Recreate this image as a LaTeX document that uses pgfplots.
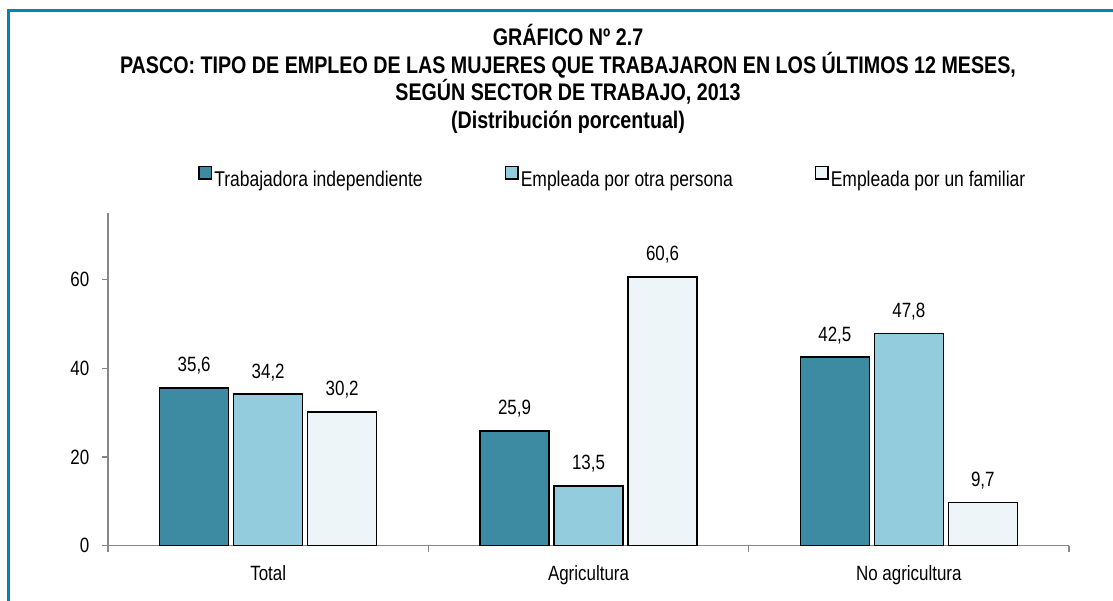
\documentclass[border=0pt]{standalone}
\usepackage{fontspec}
\setmainfont{Liberation Sans}[FakeStretch=0.82]
\usepackage{pgfplots}
\pgfplotsset{compat=1.18}
\definecolor{c1}{RGB}{60,139,163}
\definecolor{c2}{RGB}{147,205,221}
\definecolor{c3}{RGB}{237,245,248}
\definecolor{framec}{RGB}{0,133,186}
\definecolor{axgray}{RGB}{135,135,135}
\newcommand{\lab}{\fontsize{15.5}{18}\selectfont}
\newcommand{\leg}{\fontsize{16}{19}\selectfont}
\newcommand{\ttl}{\fontsize{18}{21}\selectfont}
\begin{document}
\begin{tikzpicture}
\useasboundingbox (0,0) rectangle (834.75pt,450pt);
\draw[framec, line width=2.25pt] (6pt,-5pt) -- (6pt,441.75pt) -- (840pt,441.75pt);
\node[anchor=base, font=\bfseries\ttl, inner sep=0pt] at (426pt,415.5pt) {GRÁFICO Nº 2.7};
\node[anchor=base, font=\bfseries\ttl, inner sep=0pt] at (426pt,394.5pt) {PASCO: TIPO DE EMPLEO DE LAS MUJERES QUE TRABAJARON EN LOS ÚLTIMOS 12 MESES,};
\node[anchor=base, font=\bfseries\ttl, inner sep=0pt] at (426pt,374.25pt) {SEGÚN SECTOR DE TRABAJO, 2013};
\node[anchor=base, font=\bfseries\ttl, inner sep=0pt] at (426pt,353.5pt) {(Distribución porcentual)};
\begin{axis}[
  at={(81pt,40.7pt)}, anchor=south west,
  width=720.75pt, height=249.5pt, scale only axis,
  xmin=-0.5, xmax=2.5, ymin=0, ymax=75,
  axis lines=left,
  axis line style={-, draw=axgray, line width=1.1pt},
  ytick={0,20,40,60},
  yticklabels={0,20,40,60},
  xtick={-0.5,0.5,1.5,2.5},
  xticklabels={Total,Agricultura,No agricultura},
  x tick label as interval,
  tick align=outside,
  major tick length=4.5pt,
  tick style={draw=axgray, line width=1.1pt},
  ticklabel style={font=\lab},
  yticklabel style={xshift=-6pt},
  xticklabel style={yshift=-7pt},
  /pgf/number format/assume math mode=true,
  /pgf/number format/.cd, use comma, fixed, fixed zerofill, precision=1, /pgfplots/.cd,
  ybar, bar width=51.75pt,
  nodes near coords,
  every node near coord/.append style={font=\lab, anchor=base, yshift=12pt, text=black},
  legend columns=3,
  legend cell align=left,
  legend style={draw=none, fill=none, at={(0.0937,1.105)}, anchor=west, font=\leg,
    inner sep=0pt, nodes={inner sep=1.5pt},
    /tikz/every even column/.append style={column sep=60pt}},
  legend image code/.code={\draw[#1, draw=black, line width=1pt] (0pt,0.5pt) rectangle (9.5pt,10pt);},
]
\addplot[fill=c1, draw=black, line width=1.1pt, bar shift=-55.5pt] coordinates {(0,35.6) (1,25.9) (2,42.5)};
\addlegendentry{Trabajadora independiente}
\addplot[fill=c2, draw=black, line width=1.1pt, bar shift=0pt] coordinates {(0,34.2) (1,13.5) (2,47.8)};
\addlegendentry{Empleada por otra persona}
\addplot[fill=c3, draw=black, line width=1.1pt, bar shift=55.5pt] coordinates {(0,30.2) (1,60.6) (2,9.7)};
\addlegendentry{Empleada por un familiar}
\end{axis}
\end{tikzpicture}
\end{document}
